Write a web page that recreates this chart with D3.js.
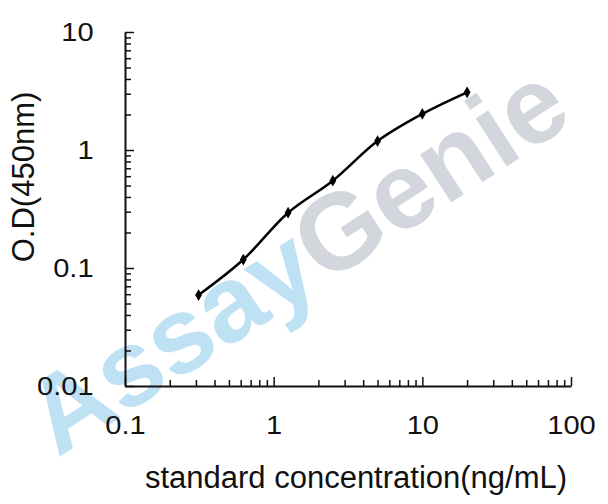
<!DOCTYPE html>
<html>
<head>
<meta charset="utf-8">
<script src="https://cdn.jsdelivr.net/npm/d3@7"></script>
<style>
  body { margin: 0; background: #fff; }
  text { font-family: "Liberation Sans", Arial, sans-serif; fill: #111; }
</style>
</head>
<body>
<script>
// data
var concentrations = [0.3125, 0.625, 1.25, 2.5, 5, 10, 20];
var odValues = [0.059, 0.118, 0.294, 0.549, 1.19, 2.02, 3.08];
var xTickValues = [0.1, 1, 10, 100];
var xTickLabels = ['0.1', '1', '10', '100'];
var yTickValues = [0.01, 0.1, 1, 10];
var yTickLabels = ['0.01', '0.1', '1', '10'];

var W = 608, H = 504;
var margin = {top: 32, right: 37, bottom: 118, left: 125};
var innerW = W - margin.left - margin.right;
var innerH = H - margin.top - margin.bottom;

var svg = d3.select('body')
            .append('svg')
              .attr('width', W)
              .attr('height', H);

// watermark behind the chart
var wm = svg.append('text')
    .attr('transform', 'translate(296,258) rotate(-33)')
    .attr('text-anchor', 'middle')
    .attr('dominant-baseline', 'central')
    .style('font-size', '108px')
    .style('font-weight', 'bold');
wm.append('tspan').text('Assay').style('fill', '#bfe1f4');
wm.append('tspan').text('Genie').style('fill', '#d3d6dd');

var g = svg.append('g')
    .attr('transform', 'translate(' + margin.left + ',' + margin.top + ')');

var x = d3.scaleLog().domain([0.1, 100]).range([0, innerW]);
var y = d3.scaleLog().domain([0.01, 10]).range([innerH, 0]);

// minor ticks (2..9 in each decade)
function minorTicks(lo, hi) {
  var out = [];
  for (var d = lo; d < hi; d *= 10) {
    for (var k = 2; k <= 9; k++) out.push(d * k);
  }
  return out;
}

g.append('g')
    .attr('transform', 'translate(0,' + innerH + ')')
    .call(d3.axisBottom(x).tickValues(minorTicks(0.1, 100)).tickSize(-6).tickFormat(''))
    .call(function(s){ s.select('.domain').remove(); })
    .selectAll('line').attr('stroke', '#111').attr('stroke-width', 1.5);

g.append('g')
    .call(d3.axisLeft(y).tickValues(minorTicks(0.01, 10)).tickSize(-6).tickFormat(''))
    .call(function(s){ s.select('.domain').remove(); })
    .selectAll('line').attr('stroke', '#111').attr('stroke-width', 1.5);

var xAxis = g.append('g')
    .attr('transform', 'translate(0,' + innerH + ')')
    .call(d3.axisBottom(x)
      .tickValues(xTickValues)
      .tickSizeInner(-9)
      .tickSizeOuter(0)
      .tickPadding(30)
      .tickFormat(function(d, i){ return xTickLabels[i]; }));

var yAxis = g.append('g')
    .call(d3.axisLeft(y)
      .tickValues(yTickValues)
      .tickSizeInner(-9)
      .tickSizeOuter(0)
      .tickPadding(28)
      .tickFormat(function(d, i){ return yTickLabels[i]; }));

[xAxis, yAxis].forEach(function(a){
  a.select('.domain').attr('stroke', '#111').attr('stroke-width', 2);
  a.selectAll('.tick line').attr('stroke', '#111').attr('stroke-width', 1.5);
  a.selectAll('.tick text')
    .style('font-size', '26px')
    .style('font-family', '"Liberation Sans", Arial, sans-serif')
    .attr('transform', 'scale(1.12,1)')
    .attr('fill', '#111');
});

// curve
var pts = concentrations.map(function(c, i){ return [c, odValues[i]]; });

g.append('path')
    .datum(pts)
    .attr('fill', 'none')
    .attr('stroke', '#000')
    .attr('stroke-width', 2.5)
    .attr('stroke-linejoin', 'round')
    .attr('d', d3.line()
      .x(function(d){ return x(d[0]); })
      .y(function(d){ return y(d[1]); })
      .curve(d3.curveCatmullRom.alpha(0.5)));

g.selectAll('.pt')
    .data(pts)
    .enter()
    .append('path')
      .attr('class', 'pt')
      .attr('transform', function(d){ return 'translate(' + x(d[0]) + ',' + y(d[1]) + ')'; })
      .attr('d', d3.symbol().type(d3.symbolDiamond).size(40))
      .attr('fill', '#000');

// axis titles
svg.append('text')
    .attr('x', 356)
    .attr('y', 488)
    .attr('text-anchor', 'middle')
    .style('font-size', '31px')
    .text('standard concentration(ng/mL)');

svg.append('text')
    .attr('transform', 'translate(34,177) rotate(-90)')
    .attr('text-anchor', 'middle')
    .style('font-size', '31px')
    .text('O.D(450nm)');
</script>
</body>
</html>
